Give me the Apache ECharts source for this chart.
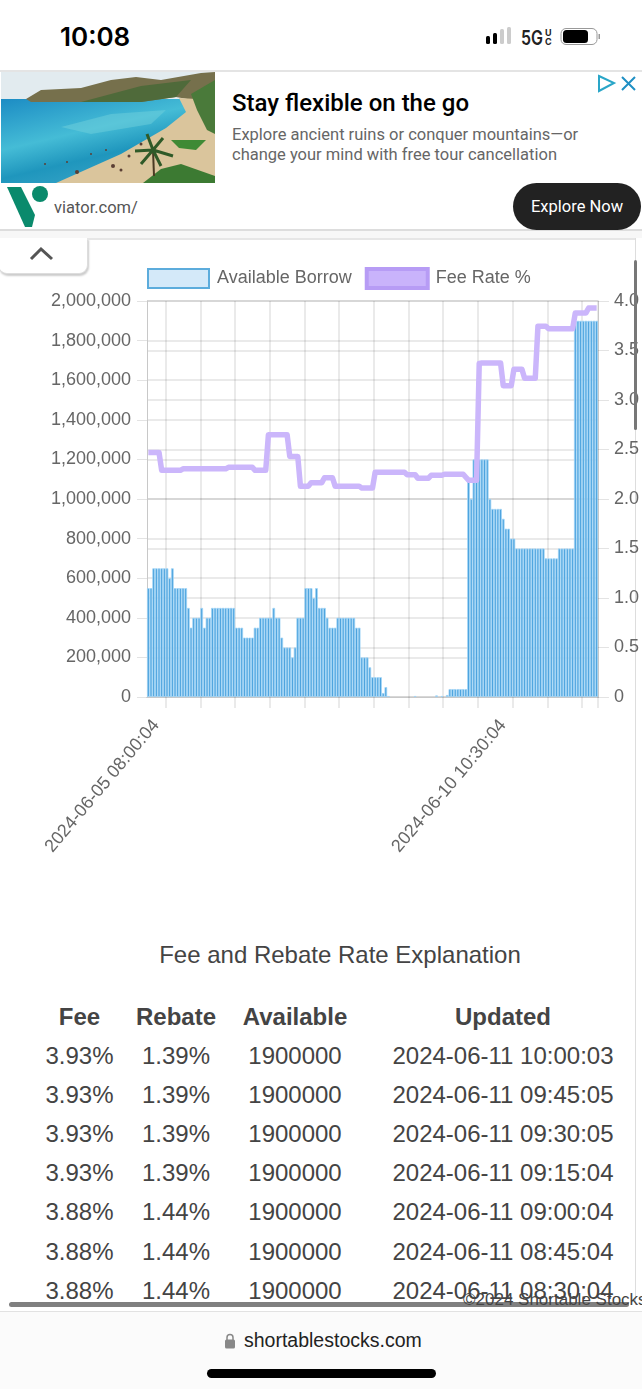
<!DOCTYPE html>
<html>
<head>
<meta charset="utf-8">
<title>Available Borrow and Fee Rate</title>
<script src="https://cdn.jsdelivr.net/npm/echarts@6/dist/echarts.min.js"></script>
<style>
html, body { margin: 0; padding: 0; background: #fff; }
body { width: 642px; height: 1389px; position: relative; overflow: hidden; font-family: "Liberation Sans", sans-serif; color: #333; }
.abs { position: absolute; white-space: nowrap; }
#chart { position: absolute; left: 0; top: 240px; width: 642px; height: 660px; }
</style>
</head>
<body>
<div class="abs" style="left:60px;top:21px;font:600 26px Inter,sans-serif;color:#000">10:08</div>
<svg class="abs" style="left:480px;top:24px" width="125" height="26">
  <rect x="6" y="12" width="4" height="8" rx="1.5" fill="#000"/>
  <rect x="13" y="9" width="4" height="11" rx="1.5" fill="#000"/>
  <rect x="20" y="5" width="4" height="15" rx="1.5" fill="#ccc"/>
  <rect x="27" y="3" width="4" height="17" rx="1.5" fill="#ccc"/>
  <text x="41" y="21" font-family="Inter,sans-serif" font-size="20" font-weight="600" fill="#222" textLength="22" lengthAdjust="spacingAndGlyphs">5G</text>
  <text x="65" y="12" font-family="Inter,sans-serif" font-size="9" font-weight="700" fill="#222">U</text>
  <text x="65" y="21" font-family="Inter,sans-serif" font-size="9" font-weight="700" fill="#222">C</text>
  <rect x="81" y="4.5" width="36" height="16" rx="5" fill="none" stroke="#999"/>
  <rect x="83" y="6" width="25" height="13" rx="3.5" fill="#000"/>
  <rect x="118.5" y="10" width="1.5" height="5" fill="#999"/>
</svg>
<div class="abs" style="left:0;top:70px;width:642px;height:161px;border-top:2px solid #e4e4e4;border-bottom:2px solid #ddd;box-sizing:border-box"></div>
<svg class="abs" style="left:1px;top:72px" width="214" height="111">
  <defs>
    <linearGradient id="sea" x1="0" y1="0" x2="0.6" y2="1">
      <stop offset="0" stop-color="#1c8cc4"/>
      <stop offset="0.45" stop-color="#45bcd6"/>
      <stop offset="0.7" stop-color="#1f96bd"/>
      <stop offset="1" stop-color="#3aa6c8"/>
    </linearGradient>
  </defs>
  <rect width="214" height="30" fill="#e2ebef"/>
  <rect y="27" width="214" height="84" fill="url(#sea)"/>
  <polygon points="60,55 110,42 165,38 150,52 90,62" fill="#6fcfdc" opacity="0.5"/>
  <polygon points="25,27 40,18 80,16 110,8 135,5 160,8 200,1 214,0 214,32 175,25 140,30 30,30" fill="#76704c"/>
  <polygon points="80,30 110,22 140,14 190,8 175,25 140,30" fill="#4f6a3a"/>
  <polygon points="55,111 120,82 165,56 185,40 178,26 214,28 214,111" fill="#dac59c"/>
  <polygon points="190,22 214,8 214,62 206,58 196,38" fill="#4a7a3a"/>
  <polygon points="170,68 205,68 195,78 178,76" fill="#3f8a35"/>
  <polygon points="142,111 160,97 180,92 214,104 214,111" fill="#3c7a32"/>
  <path d="M153 104 L152 78" stroke="#4a3a22" stroke-width="2"/>
  <path d="M152 78 L134 79 M152 78 L172 84 M152 78 L146 62 M152 78 L162 66 M152 78 L140 92 M152 78 L160 94" stroke="#2f5a28" stroke-width="3"/>
  <g fill="#5a3f34">
    <circle cx="76" cy="100" r="2"/><circle cx="112" cy="94" r="2"/><circle cx="128" cy="84" r="1.5"/>
    <circle cx="120" cy="98" r="1.5"/><circle cx="90" cy="82" r="1"/><circle cx="66" cy="90" r="1"/>
    <circle cx="105" cy="78" r="1"/><circle cx="140" cy="72" r="1.5"/><circle cx="44" cy="92" r="1"/>
  </g>
</svg>
<div class="abs" style="left:232px;top:89px;font:500 24px Roboto,sans-serif;color:#000">Stay flexible on the go</div>
<div class="abs" style="left:232px;top:125px;font:400 16.5px/19.5px Roboto,sans-serif;color:#666">Explore ancient ruins or conquer mountains—or<br>change your mind with free tour cancellation</div>
<svg class="abs" style="left:596px;top:72px" width="46" height="24">
  <path d="M3 4 L18 11 L3 19 Z" fill="none" stroke="#2aa6c8" stroke-width="2"/>
  <path d="M26 5 L39 18 M39 5 L26 18" stroke="#1f8fc4" stroke-width="2"/>
</svg>
<svg class="abs" style="left:5px;top:185px" width="46" height="45">
  <path d="M2 2 L16 2 L30 30 L27 42 L20 42 Z" fill="#0a8a6c"/>
  <circle cx="35" cy="9" r="8" fill="#0a8a6c"/>
</svg>
<div class="abs" style="left:54px;top:198px;font:400 16.5px Roboto,sans-serif;color:#555">viator.com/</div>
<div class="abs" style="left:513px;top:183px;width:128px;height:47px;border-radius:24px;background:#222;color:#fff;font:400 16.5px/48px Roboto,sans-serif;text-align:center">Explore Now</div>
<div class="abs" style="left:0;top:231px;width:642px;height:7px;background:#f7f7f7"></div>
<div class="abs" style="left:-2px;top:238px;width:88px;height:35px;border:1px solid #ddd;border-top:0;border-radius:0 0 9px 9px;box-shadow:1px 2px 2px #ccc;background:#fff"></div>
<svg class="abs" style="left:28px;top:244px" width="28" height="20"><path d="M3 15 L13 5 L24 15" fill="none" stroke="#555" stroke-width="3"/></svg>
<div class="abs" style="left:87px;top:238px;width:548px;height:2px;background:#e6e6e6"></div>
<div class="abs" style="left:635px;top:238px;width:1px;height:1072px;background:#ddd"></div>

<div id="chart"></div>

<div class="abs" style="left:634px;top:260px;width:3px;height:170px;border-radius:2px;background:#777"></div>
<div class="abs" style="left:0;width:642px;text-align:center;top:941px;font-size:24px;color:#444;padding-left:38px;box-sizing:border-box">Fee and Rebate Rate Explanation</div>
<div id="table"></div>
<div class="abs" style="left:0;top:1305px;width:642px;height:84px;background:#fff"></div>
<div class="abs" style="left:9px;top:1302px;width:620px;height:5px;border-radius:3px;background:#808080"></div>
<div class="abs" style="left:0;top:1311px;width:642px;height:78px;background:#fbfbfb;border-top:1px solid #e2e2e2;box-sizing:border-box"></div>
<div class="abs" style="left:463px;top:1290px;font-size:17px;color:#444">©2024 Shortable Stocks</div>
<svg class="abs" style="left:224px;top:1333px" width="12" height="16"><path d="M3 7 V4.5 a3 3 0 0 1 6 0 V7" fill="none" stroke="#888" stroke-width="1.5"/><rect x="1" y="6.5" width="10" height="9" rx="1.5" fill="#888"/></svg>
<div class="abs" style="left:244px;top:1329px;font-size:19.5px;color:#222">shortablestocks.com</div>
<div class="abs" style="left:207px;top:1369px;width:229px;height:9px;border-radius:5px;background:#000"></div>

<script>
// available shares, one bar per 15 minute sample, null where no bar shows
const availableBorrow = [
    550000, 550000, 650000, 650000, 650000, 650000, 650000, 650000, 600000, 650000,
    550000, 550000, 550000, 550000, 550000, 450000, 350000, 400000, 400000, 400000,
    450000, 350000, 400000, 400000, 450000, 450000, 450000, 450000, 450000, 450000,
    450000, 450000, 450000, 350000, 350000, 350000, 300000, 300000, 300000, 300000,
    350000, 350000, 400000, 400000, 400000, 400000, 400000, 450000, 400000, 400000,
    300000, 250000, 250000, 250000, 200000, 250000, 400000, 400000, 400000, 550000,
    550000, 550000, 500000, 550000, 450000, 450000, 450000, 400000, 350000, 350000,
    350000, 400000, 400000, 400000, 400000, 400000, 400000, 400000, 350000, 350000,
    200000, 200000, 200000, 150000, 100000, 100000, 100000, 100000, 20000, 50000,
    5000, null, null, null, null, null, null, null, null, null,
    5000, null, null, null, null, null, null, null, 8000, null,
    5000, null, 10000, 40000, 40000, 40000, 40000, 40000, 40000, 40000,
    1100000, 1000000, 1200000, 1200000, 1200000, 1200000, 1200000, 1200000, 1000000, 950000,
    950000, 950000, 950000, 900000, 850000, 850000, 800000, 800000, 750000, 750000,
    750000, 750000, 750000, 750000, 750000, 750000, 750000, 750000, 750000, 700000,
    700000, 700000, 700000, 700000, 750000, 750000, 750000, 750000, 750000, 750000,
    1900000, 1900000, 1900000, 1900000, 1900000, 1900000, 1900000, 1900000, 1900000
];

const feeRate = [
    2.47, 2.47, 2.47, 2.47, 2.47, 2.29, 2.29, 2.29, 2.29, 2.29,
    2.29, 2.29, 2.29, 2.305, 2.305, 2.305, 2.305, 2.305, 2.305, 2.305,
    2.305, 2.305, 2.305, 2.305, 2.305, 2.305, 2.305, 2.305, 2.305, 2.305,
    2.32, 2.32, 2.32, 2.32, 2.32, 2.32, 2.32, 2.32, 2.32, 2.32,
    2.29, 2.29, 2.29, 2.29, 2.29, 2.65, 2.65, 2.65, 2.65, 2.65,
    2.65, 2.65, 2.65, 2.43, 2.43, 2.43, 2.43, 2.13, 2.13, 2.13,
    2.13, 2.165, 2.165, 2.165, 2.165, 2.165, 2.215, 2.215, 2.215, 2.215,
    2.13, 2.13, 2.13, 2.13, 2.13, 2.13, 2.13, 2.13, 2.13, 2.13,
    2.11, 2.11, 2.11, 2.11, 2.11, 2.27, 2.27, 2.27, 2.27, 2.27,
    2.27, 2.27, 2.27, 2.27, 2.27, 2.27, 2.27, 2.245, 2.245, 2.245,
    2.245, 2.21, 2.21, 2.21, 2.21, 2.21, 2.24, 2.24, 2.24, 2.24,
    2.24, 2.25, 2.25, 2.25, 2.25, 2.25, 2.25, 2.25, 2.25, 2.22,
    2.19, 2.19, 2.19, 2.19, 3.37, 3.375, 3.375, 3.375, 3.375, 3.375,
    3.375, 3.375, 3.375, 3.145, 3.145, 3.145, 3.145, 3.31, 3.31, 3.31,
    3.31, 3.22, 3.22, 3.22, 3.22, 3.22, 3.745, 3.745, 3.745, 3.745,
    3.72, 3.72, 3.72, 3.72, 3.72, 3.72, 3.72, 3.72, 3.72, 3.72,
    3.88, 3.88, 3.88, 3.88, 3.88, 3.93, 3.93, 3.93, 3.93
];

// only two samples carry a date label on the x axis
const labelledSamples = { 7: '2024-06-05 08:00:04', 137: '2024-06-10 10:30:04' };
const sampleLabels = availableBorrow.map((v, i) => labelledSamples[i] || '');

const tableHeader = ['Fee', 'Rebate', 'Available', 'Updated'];
const feeColumn = ['3.93%', '3.93%', '3.93%', '3.93%', '3.88%', '3.88%', '3.88%'];
const rebateColumn = ['1.39%', '1.39%', '1.39%', '1.39%', '1.44%', '1.44%', '1.44%'];
const availableColumn = ['1900000', '1900000', '1900000', '1900000', '1900000', '1900000', '1900000'];
const updatedColumn = [
    '2024-06-11 10:00:03', '2024-06-11 09:45:05', '2024-06-11 09:30:05', '2024-06-11 09:15:04',
    '2024-06-11 09:00:04', '2024-06-11 08:45:04', '2024-06-11 08:30:04'
];

// table is plain html under the chart
const columnCentres = [79.5, 176, 295, 503];
let rows = '';
tableHeader.forEach((h, c) => {
    rows += '<div class="abs" style="top:1003px;left:' + columnCentres[c] + 'px;transform:translateX(-50%);font-size:24px;font-weight:bold;color:#444">' + h + '</div>';
});
feeColumn.forEach((fee, r) => {
    [fee, rebateColumn[r], availableColumn[r], updatedColumn[r]].forEach((text, c) => {
        rows += '<div class="abs" style="top:' + (1042 + r * 39.1) + 'px;left:' + columnCentres[c] + 'px;transform:translateX(-50%);font-size:24px;color:#444">' + text + '</div>';
    });
});
document.getElementById('table').innerHTML = rows;

const textColor = '#666';
const gridColor = 'rgba(0,0,0,0.11)';
const isGridTick = function (index) {
    return (index - 7) % 13 === 0;
};

const chart = echarts.init(document.getElementById('chart'));
chart.setOption({
    animation: false,
    textStyle: { fontFamily: '"Liberation Sans", sans-serif' },
    legend: {
        left: 142,
        top: 22,
        itemWidth: 61,
        itemHeight: 19,
        itemGap: 13,
        textStyle: { fontSize: 18, color: textColor, padding: [0, 0, 0, 3] },
        data: [
            { name: 'Available Borrow', icon: 'rect', itemStyle: { color: '#d4e9f9', borderColor: '#5cacdc', borderWidth: 2 } },
            { name: 'Fee Rate %', icon: 'rect', itemStyle: { color: '#c9b3fb', borderColor: '#b79cf5', borderWidth: 4 } }
        ]
    },
    grid: { left: 147, right: 44, top: 61, height: 396 },
    xAxis: {
        type: 'category',
        data: sampleLabels,
        boundaryGap: true,
        axisLine: { lineStyle: { color: '#c8c8c8' } },
        axisTick: { show: true, length: 11, interval: isGridTick, lineStyle: { color: gridColor, width: 1.5 } },
        splitLine: { show: true, interval: isGridTick, lineStyle: { color: gridColor, width: 1.5 } },
        axisLabel: {
            interval: (index) => index in labelledSamples,
            rotate: 50,
            fontSize: 18,
            color: textColor,
            margin: 12,
            padding: [0, 17, 0, 0],
            hideOverlap: false
        }
    },
    yAxis: [
        {
            type: 'value',
            min: 0,
            max: 2000000,
            interval: 200000,
            axisLine: { show: true, lineStyle: { color: '#c8c8c8' } },
            axisTick: { show: true, length: 10, lineStyle: { color: gridColor } },
            splitLine: { lineStyle: { color: gridColor, width: 1.5 } },
            axisLabel: {
                fontSize: 18,
                color: textColor,
                margin: 16,
                padding: [4, 0, 0, 0],
                formatter: (v) => v.toLocaleString('en-US')
            }
        },
        {
            type: 'value',
            min: 0,
            max: 4,
            interval: 0.5,
            position: 'right',
            axisLine: { show: true, lineStyle: { color: '#c8c8c8' } },
            axisTick: { show: true, length: 11, lineStyle: { color: gridColor } },
            splitLine: { show: true, lineStyle: { color: gridColor, width: 1.5 } },
            axisLabel: {
                fontSize: 18,
                color: textColor,
                margin: 16,
                padding: [4, 0, 0, 0],
                formatter: (v) => (v === 0 ? '0' : v.toFixed(1))
            }
        }
    ],
    series: [
        {
            name: 'Available Borrow',
            type: 'bar',
            yAxisIndex: 0,
            data: availableBorrow,
            barWidth: '100%',
            itemStyle: { color: '#459fdc', borderColor: '#a3d6f6', borderWidth: 0.8 },
            z: 2
        },
        {
            name: 'Fee Rate %',
            type: 'line',
            yAxisIndex: 1,
            data: feeRate,
            showSymbol: false,
            lineStyle: { color: '#cbb6fb', width: 5.5, join: 'round' },
            itemStyle: { color: '#cbb6fb' },
            z: 3
        }
    ]
});
</script>
</body>
</html>
